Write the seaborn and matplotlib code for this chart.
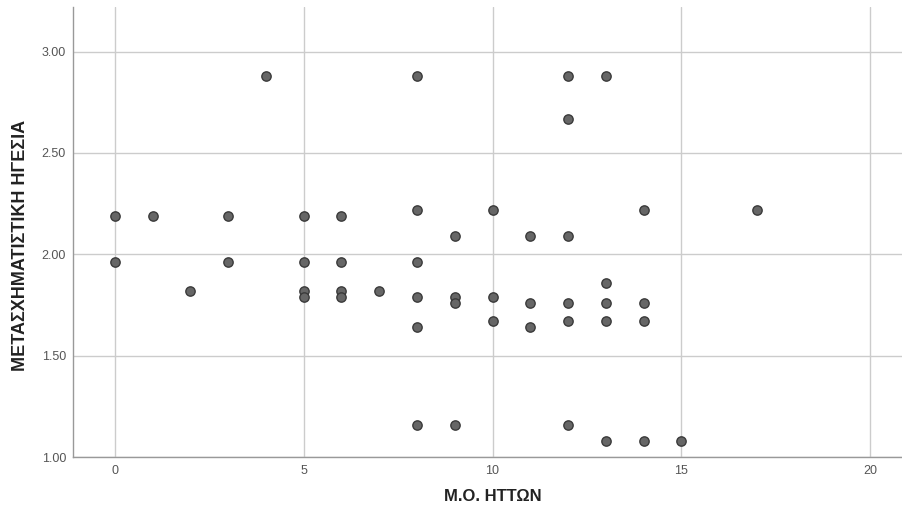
import matplotlib
matplotlib.use("Agg")
import matplotlib.pyplot as plt
import seaborn as sns
import pandas as pd
from matplotlib.ticker import FormatStrFormatter

# Data
defeats = [0, 0, 1, 2, 3, 3, 4,
           5, 5, 5, 5, 6, 6, 6, 6, 7,
           8, 8, 8, 8, 8, 8,
           9, 9, 9, 9,
           10, 10, 10,
           11, 11, 11,
           12, 12, 12, 12, 12, 12,
           13, 13, 13, 13, 13,
           14, 14, 14, 14,
           15, 17]
leadership = [2.19, 1.96, 2.19, 1.82, 2.19, 1.96, 2.88,
              2.19, 1.96, 1.82, 1.79, 2.19, 1.96, 1.82, 1.79, 1.82,
              2.88, 2.22, 1.96, 1.79, 1.64, 1.16,
              2.09, 1.79, 1.76, 1.16,
              2.22, 1.79, 1.67,
              2.09, 1.76, 1.64,
              2.88, 2.67, 2.09, 1.76, 1.67, 1.16,
              2.88, 1.86, 1.76, 1.67, 1.08,
              2.22, 1.76, 1.67, 1.08,
              1.08, 2.22]
x_ticks = [0, 5, 10, 15, 20]
y_ticks = [1.00, 1.50, 2.00, 2.50, 3.00]
x_label = "Μ.Ο. ΗΤΤΩΝ"
y_label = "ΜΕΤΑΣΧΗΜΑΤΙΣΤΙΚΗ ΗΓΕΣΙΑ"

df = pd.DataFrame({"x": defeats, "y": leadership})

sns.set_style("white")
plt.rcParams["font.family"] = ["Liberation Sans", "DejaVu Sans"]

fig = plt.figure(figsize=(9.03, 5.12), dpi=100)
ax = fig.add_axes([0.0808, 0.1074, 0.9192, 0.8789])

sns.scatterplot(data=df, x="x", y="y", ax=ax, s=45, color="#666666",
                edgecolor="#3a3a3a", linewidth=1.0, zorder=3)

ax.set_xlim(-1.11, 20.87)
ax.set_ylim(1.0, 3.22)
ax.set_xticks(x_ticks)
ax.set_yticks(y_ticks)
ax.yaxis.set_major_formatter(FormatStrFormatter("%.2f"))
ax.grid(True, color="#cccccc", linewidth=1.0, zorder=0)
ax.set_axisbelow(True)
for side in ["top", "right"]:
    ax.spines[side].set_visible(False)
for side in ["left", "bottom"]:
    ax.spines[side].set_color("#999999")
    ax.spines[side].set_linewidth(1.0)
ax.tick_params(axis="both", length=0, labelsize=9, labelcolor="#555555")
ax.tick_params(axis="x", pad=6)
ax.tick_params(axis="y", pad=5)

ax.set_xlabel(x_label, fontsize=12, fontweight="bold", color="#222222")
ax.set_ylabel(y_label, fontsize=13, fontweight="bold", color="#222222")
ax.xaxis.set_label_coords((493 - 73) / 830, -(489 - 457) / 450)
ax.yaxis.set_label_coords(-(73 - 29) / 830, (457 - 245) / 450)

fig.savefig("out.png", dpi=100)
